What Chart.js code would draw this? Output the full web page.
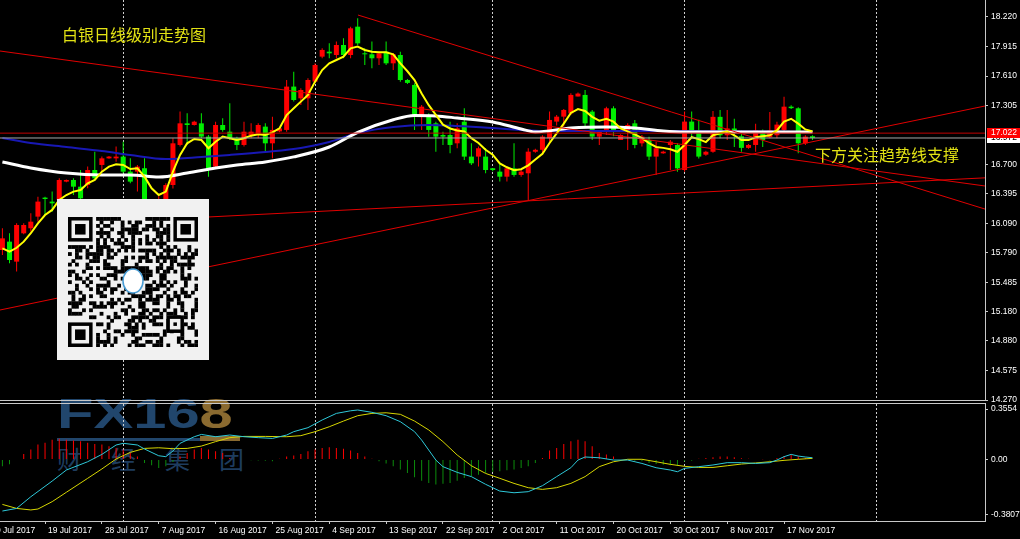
<!DOCTYPE html>
<html>
<head>
<meta charset="utf-8">
<script src="https://cdn.jsdelivr.net/npm/chart.js@4.4.0/dist/chart.umd.min.js"></script>
<style>
html, body { margin: 0; padding: 0; background: #000; overflow: hidden; }
#wrap { position: relative; width: 1020px; height: 539px; background: #000; }
canvas { position: absolute; left: 0; }
#main { top: 0; }
#macd { top: 401px; }
.note { position: absolute; font-family: "Noto Sans CJK SC", sans-serif; font-size: 16px; line-height: 18px; color: #e2e214; white-space: nowrap; }
#wm { position: absolute; left: 57px; top: 393px; width: 190px; height: 85px; }
#wm .fx { position: absolute; left: 0; top: 0; font: bold 42px/42px "Liberation Sans", sans-serif; color: #21466c; transform: scaleX(1.42); transform-origin: 0 0; white-space: nowrap; }
#wm .fx span { color: #8a6a30; }
#wm .bar1 { position: absolute; left: 0; top: 45px; width: 143px; height: 3px; background: #21466c; }
#wm .bar2 { position: absolute; left: 143px; top: 43px; width: 40px; height: 5px; background: #8a6a30; }
#wm .cn { position: absolute; left: 0; top: 50px; font: 25px/30px "Noto Sans CJK SC", sans-serif; letter-spacing: 29px; color: #1e3c5e; white-space: nowrap; }
#qr { position: absolute; left: 57px; top: 199px; width: 152px; height: 161px; background: #f1f1f1; }
#qrc { position: absolute; left: 11px; top: 18px; }
</style>
</head>
<body>
<div id="wrap">
  <div id="wm"><div class="fx">FX16<span>8</span></div><div class="bar1"></div><div class="bar2"></div><div class="cn">财经集团</div></div>
  <canvas id="main" width="1020" height="405"></canvas>
  <canvas id="macd" width="1020" height="138"></canvas>
  <div class="note" style="left:62px;top:25px;">白银日线级别走势图</div>
  <div class="note" style="left:815px;top:145px;">下方关注趋势线支撑</div>
  <div id="qr"><canvas id="qrc" width="130" height="130"></canvas></div>
</div>
<script>
// bottom date labels (bar index where each label sits) and month grid lines
const tickLabels = ['10 Jul 2017', '19 Jul 2017', '28 Jul 2017', '7 Aug 2017', '16 Aug 2017', '25 Aug 2017',
    '4 Sep 2017', '13 Sep 2017', '22 Sep 2017', '2 Oct 2017', '11 Oct 2017', '20 Oct 2017',
    '30 Oct 2017', '8 Nov 2017', '17 Nov 2017'];
const tickIdx = [-2, 6, 14, 22, 30, 38, 46, 54, 62, 70, 78, 86, 94, 102, 110];
const monthIdx = [17, 44, 69, 96, 123];
const priceTicks = [18.220, 17.915, 17.610, 17.305, 16.700, 16.395, 16.090, 15.790, 15.485, 15.180, 14.880, 14.575, 14.270];

// daily silver candles, 12 Jul 2017 .. 22 Nov 2017 (Sunday bars included)
const opens = [15.817,15.903,15.697,15.989,16.041,16.161,16.357,16.316,16.333,16.522,
    16.539,16.470,16.487,16.642,16.694,16.762,16.762,16.780,16.625,16.625,
    16.660,16.240,16.250,16.316,16.487,16.900,17.123,17.106,17.123,16.986,
    16.677,17.106,17.037,16.969,16.900,17.003,17.003,17.089,16.917,17.040,
    17.055,17.502,17.381,17.381,17.553,17.811,17.862,17.828,17.931,17.828,
    18.120,17.845,17.835,17.794,17.862,17.742,17.828,17.570,17.519,17.209,
    17.209,17.123,17.003,17.003,16.917,17.140,16.780,16.780,16.780,16.660,
    16.625,16.573,16.659,16.591,16.608,16.830,16.850,16.969,17.141,17.192,
    17.226,17.400,17.416,17.244,16.986,17.037,17.278,16.951,17.037,17.123,
    16.917,16.951,16.780,16.814,16.900,16.900,16.642,17.141,17.050,16.800,
    16.830,17.190,17.000,17.070,16.990,16.870,16.900,17.020,16.980,17.000,
    17.055,17.295,17.278,16.917,16.990];
const highs = [16.041,15.989,16.092,16.092,16.195,16.367,16.367,16.419,16.556,16.545,
    16.556,16.642,16.677,16.831,16.780,16.785,16.883,16.934,16.762,16.694,
    16.762,16.260,16.370,16.505,16.969,17.244,17.226,17.150,17.226,17.003,
    17.140,17.175,17.330,16.986,17.140,17.123,17.123,17.123,17.192,17.080,
    17.570,17.656,17.484,17.587,17.742,17.897,17.948,17.966,18.000,18.120,
    18.206,17.897,17.966,17.862,17.966,17.845,17.862,17.580,17.536,17.312,
    17.227,17.140,17.037,17.140,17.123,17.278,16.917,16.883,16.866,16.660,
    16.711,16.677,16.917,16.642,16.866,16.860,17.000,17.244,17.210,17.270,
    17.433,17.440,17.467,17.261,17.055,17.295,17.300,17.010,17.123,17.158,
    17.003,16.986,16.934,16.840,16.951,16.917,17.244,17.244,17.160,16.840,
    17.250,17.260,17.260,17.170,17.050,16.910,17.120,17.060,17.240,17.140,
    17.398,17.310,17.290,17.000,17.000];
const lows = [15.765,15.680,15.594,15.980,16.006,16.109,16.178,16.212,16.316,16.515,
    16.384,16.316,16.453,16.539,16.625,16.758,16.728,16.608,16.505,16.419,
    16.180,16.230,16.150,16.280,16.450,16.883,16.900,17.100,16.969,16.573,
    16.659,17.037,16.951,16.848,16.883,16.969,16.969,16.831,16.762,17.030,
    17.037,17.347,17.312,17.261,17.536,17.794,17.794,17.794,17.794,17.794,
    17.931,17.725,17.691,17.725,17.725,17.673,17.553,17.530,17.055,17.055,
    16.986,16.831,16.900,16.814,16.866,16.745,16.694,16.677,16.608,16.630,
    16.522,16.522,16.573,16.573,16.333,16.820,16.800,16.934,17.100,17.089,
    17.209,17.400,17.089,16.951,16.900,17.003,16.990,16.950,16.848,16.866,
    16.883,16.745,16.591,16.810,16.642,16.625,16.625,16.980,16.760,16.790,
    16.820,16.970,16.950,16.880,16.830,16.860,16.830,16.880,16.970,16.970,
    17.040,17.270,16.814,16.900,16.950];
const closes = [15.937,15.714,16.075,16.075,16.109,16.316,16.343,16.298,16.539,16.539,
    16.470,16.350,16.642,16.556,16.762,16.780,16.780,16.625,16.522,16.677,
    16.240,16.250,16.320,16.487,16.917,17.123,17.106,17.140,16.986,16.659,
    17.106,17.055,16.969,16.900,17.037,17.037,17.106,16.917,17.055,17.070,
    17.502,17.364,17.467,17.570,17.725,17.880,17.845,17.931,17.828,18.103,
    17.948,17.835,17.794,17.845,17.742,17.835,17.570,17.540,17.209,17.295,
    17.055,16.986,16.986,16.900,17.072,16.780,16.711,16.866,16.642,16.642,
    16.573,16.659,16.591,16.625,16.831,16.850,16.986,17.158,17.192,17.261,
    17.416,17.430,17.123,16.986,17.037,17.278,17.037,17.003,17.106,16.900,
    16.986,16.780,16.866,16.831,16.934,16.659,17.141,17.050,16.780,16.830,
    17.190,17.000,17.070,17.030,16.870,16.900,17.050,16.950,17.050,17.110,
    17.295,17.280,16.917,16.986,16.972];

// moving averages
const maFast = [15.834,15.800,15.840,15.903,15.990,16.092,16.178,16.230,16.333,16.384,
    16.419,16.436,16.505,16.540,16.625,16.677,16.700,16.694,16.652,16.660,
    16.573,16.453,16.384,16.419,16.625,16.797,16.917,16.962,16.951,16.866,
    16.934,16.986,16.969,16.951,16.969,16.996,17.010,17.003,17.030,17.072,
    17.209,17.278,17.347,17.416,17.553,17.673,17.742,17.776,17.811,17.897,
    17.914,17.880,17.862,17.855,17.855,17.835,17.742,17.660,17.570,17.430,
    17.310,17.210,17.110,17.070,17.050,17.040,16.970,16.920,16.850,16.800,
    16.710,16.670,16.640,16.650,16.690,16.750,16.810,16.920,17.020,17.120,
    17.230,17.270,17.250,17.190,17.150,17.170,17.140,17.070,17.040,17.010,
    16.970,16.920,16.880,16.870,16.855,16.830,16.900,16.980,16.960,16.930,
    17.000,17.020,17.040,17.000,16.950,16.950,16.980,16.990,17.000,17.050,
    17.140,17.170,17.120,17.060,17.040];
const maWhite = [[0,16.725],[4,16.663],[9,16.611],[14,16.591],[18,16.591],[22,16.570],[26,16.611],
    [30,16.663],[33,16.694],[37,16.725],[41,16.777],[46,16.879],[50,17.030],[55,17.160],[58,17.205],
    [61,17.200],[64,17.178],[69,17.137],[73,17.065],[75,17.034],[80,17.075],[85,17.086],[89,17.075],
    [93,17.044],[96,17.034],[104,17.034],[114,17.034]];
const maBlue = [[0,16.972],[4,16.921],[9,16.879],[14,16.838],[18,16.797],[23,16.756],[28,16.776],
    [32,16.797],[37,16.828],[42,16.869],[46,16.931],[50,17.024],[55,17.086],[60,17.106],[64,17.096],
    [69,17.075],[73,17.055],[76,17.044],[94,17.044],[114,17.034]];

// hand-drawn trend lines [x1, price1, x2, price2] and horizontal levels
const trendLines = [[-0.34, 17.869, 138.28, 16.477], [50.04, 18.240, 138.28, 16.239],
    [-0.34, 15.198, 138.28, 17.302], [20.77, 16.127, 138.28, 16.561]];
const levelLine = 17.022;
const bidLine = 16.972;

// MACD panel
const macdMain = [[0,-0.335],[2,-0.318],[4,-0.242],[7,-0.140],[9,-0.068],[12,-0.014],[14,0.034],
    [16,0.095],[17,0.106],[19,0.095],[20,0.069],[22,0.025],[23,0.019],[24,0.056],[25,0.106],[27,0.149],
    [28,0.164],[30,0.149],[32,0.160],[34,0.149],[36,0.143],[38,0.138],[40,0.160],[41,0.182],[43,0.208],
    [45,0.258],[47,0.301],[49,0.318],[50,0.323],[52,0.308],[54,0.286],[56,0.247],[58,0.182],[59,0.127],
    [61,-0.003],[62,-0.046],[64,-0.083],[66,-0.111],[68,-0.161],[70,-0.205],[72,-0.216],[74,-0.209],
    [76,-0.170],[78,-0.111],[80,-0.053],[81,-0.003],[82,0.017],[84,0.012],[86,-0.003],[88,-0.003],
    [90,-0.025],[92,-0.053],[94,-0.068],[95,-0.079],[96,-0.057],[98,-0.046],[100,-0.035],[102,-0.020],
    [104,-0.020],[106,-0.025],[108,-0.020],[109,-0.003],[110,0.019],[111,0.034],[112,0.023],[113,0.017],
    [114,0.012]];
const macdSignal = [[0,-0.292],[2,-0.318],[4,-0.328],[5,-0.322],[7,-0.274],[9,-0.213],[12,-0.122],
    [14,-0.061],[16,0.004],[18,0.047],[20,0.073],[22,0.077],[24,0.071],[26,0.073],[28,0.088],[30,0.117],
    [32,0.143],[34,0.151],[37,0.151],[40,0.149],[42,0.156],[44,0.182],[46,0.214],[48,0.251],[50,0.286],
    [52,0.301],[54,0.305],[56,0.295],[58,0.251],[60,0.193],[62,0.117],[64,0.030],[66,-0.040],[68,-0.090],
    [70,-0.122],[72,-0.155],[74,-0.183],[76,-0.194],[78,-0.183],[80,-0.155],[82,-0.111],[84,-0.046],
    [86,-0.014],[88,0.002],[90,0.002],[92,-0.014],[94,-0.031],[96,-0.044],[98,-0.051],[100,-0.051],
    [102,-0.040],[104,-0.029],[106,-0.022],[108,-0.014],[110,-0.005],[112,0.002],[114,0.008]];
const macdHist = [-0.043,-0.030,0.000,0.037,0.065,0.098,0.109,0.130,0.135,0.130,
    0.124,0.120,0.109,0.102,0.098,0.087,0.076,0.065,0.043,0.020,
    -0.022,-0.037,-0.054,-0.043,-0.015,0.020,0.043,0.065,0.076,0.065,
    0.054,0.043,0.010,0.004,-0.002,-0.004,-0.006,-0.008,-0.010,0.005,
    0.020,0.026,0.037,0.054,0.065,0.076,0.080,0.076,0.070,0.059,
    0.043,0.020,0.005,-0.010,-0.026,-0.043,-0.065,-0.087,-0.115,-0.137,
    -0.152,-0.163,-0.158,-0.152,-0.137,-0.120,-0.109,-0.098,-0.087,-0.080,
    -0.076,-0.070,-0.065,-0.054,-0.043,-0.022,0.010,0.059,0.076,0.102,
    0.120,0.130,0.120,0.087,0.043,0.033,0.020,0.004,0.002,-0.007,
    -0.011,-0.022,-0.028,-0.033,-0.037,-0.037,-0.013,-0.008,0.005,0.010,
    0.016,0.020,0.020,0.015,0.009,0.005,-0.003,0.002,-0.006,0.010,
    0.024,0.030,0.021,0.012,0.004];
// MT4 prints the panel's max/min at its edges; tick positions sit where those labels are drawn
const macdTickPos = [0.3296, 0, -0.3609];
const macdTickLabels = ['0.3554', '0.00', '-0.3807'];

const X_MIN = -0.338, X_MAX = 138.28;

Chart.defaults.font.family = '"Liberation Sans", Arial, sans-serif';
Chart.defaults.font.size = 8.5;
Chart.defaults.color = '#ffffff';

var upColor = '#ff0000';
var downColor = '#00ee00';
var candleColors = opens.map(function (o, i) { return closes[i] >= o ? upColor : downColor; });
var xy = function (arr) { return arr.map(function (v, i) { return { x: i, y: v }; }); };
var pairs = function (arr) { return arr.map(function (p) { return { x: p[0], y: p[1] }; }); };
var flat = function (v) { return [{ x: X_MIN, y: v }, { x: X_MAX, y: v }]; };

function fixRightAxis(s) { s.width = 35; s.paddingTop = 0; s.paddingBottom = 0; }

var priceTags = {
    id: 'priceTags',
    afterDraw: function (chart) {
        var ctx = chart.ctx, y = chart.scales.y;
        var tags = [[bidLine, '#ffffff', '#000000'], [levelLine, '#ff0000', '#ffffff']];
        ctx.save();
        ctx.font = '8.5px "Liberation Sans"';
        ctx.textBaseline = 'middle';
        tags.forEach(function (t) {
            var py = Math.round(y.getPixelForValue(t[0]));
            ctx.fillStyle = t[1];
            ctx.fillRect(y.left + 2, py - 5, 33, 10);
            ctx.fillStyle = t[2];
            ctx.fillText(t[0].toFixed(3), y.left + 6, py);
        });
        ctx.restore();
    }
};

var mainSets = [
    { type: 'line', data: flat(levelLine), borderColor: '#c00000', borderWidth: 1, pointRadius: 0, order: 1 },
    { type: 'line', data: flat(bidLine), borderColor: '#a8a8a8', borderWidth: 1, pointRadius: 0, order: 1 }
];
trendLines.forEach(function (t) {
    mainSets.push({ type: 'line', data: [{ x: t[0], y: t[1] }, { x: t[2], y: t[3] }],
        borderColor: '#e00000', borderWidth: 1, pointRadius: 0, order: 2 });
});
mainSets.push(
    { type: 'line', data: xy(maFast), borderColor: '#ffff00', borderWidth: 2, pointRadius: 0, order: 3 },
    { type: 'line', data: pairs(maWhite), borderColor: '#ffffff', borderWidth: 3, pointRadius: 0, cubicInterpolationMode: 'monotone', order: 4 },
    { type: 'line', data: pairs(maBlue), borderColor: '#1818b4', borderWidth: 2, pointRadius: 0, cubicInterpolationMode: 'monotone', order: 5 },
    { data: opens.map(function (o, i) { return { x: i, y: [o, closes[i]] }; }), backgroundColor: candleColors,
        maxBarThickness: 5, minBarLength: 1, grouped: false, order: 6 },
    { data: opens.map(function (o, i) { return { x: i, y: [lows[i], highs[i]] }; }), backgroundColor: candleColors,
        maxBarThickness: 1, grouped: false, order: 7 }
);

new Chart(document.getElementById('main'), {
    type: 'bar',
    data: { datasets: mainSets },
    options: {
        responsive: false, animation: false, devicePixelRatio: 1,
        layout: { padding: 0 },
        plugins: { legend: { display: false }, tooltip: { enabled: false } },
        scales: {
            x: {
                type: 'linear', min: X_MIN, max: X_MAX, offset: false,
                grid: { color: '#d0d0d0', drawTicks: false, offset: false },
                border: { display: true, color: '#c8c8c8', dash: [2, 2] },
                ticks: { display: false },
                afterBuildTicks: function (s) { s.ticks = monthIdx.map(function (v) { return { value: v }; }); },
                afterFit: function (s) { s.height = 5; s.paddingLeft = 0; s.paddingRight = 0; }
            },
            y: {
                type: 'linear', position: 'right', min: 14.270, max: 18.395,
                grid: { drawOnChartArea: false, drawTicks: true, tickLength: 3, color: '#c8c8c8' },
                border: { display: true, color: '#c8c8c8' },
                ticks: { padding: 3, autoSkip: false, color: '#ffffff', callback: function (v) { return v.toFixed(3); } },
                afterBuildTicks: function (s) { s.ticks = priceTicks.map(function (v) { return { value: v }; }); },
                afterFit: fixRightAxis
            }
        }
    },
    plugins: [priceTags]
});

new Chart(document.getElementById('macd'), {
    type: 'bar',
    data: {
        datasets: [
            { type: 'line', data: pairs(macdMain), borderColor: '#2ec8d8', borderWidth: 1, pointRadius: 0, order: 1 },
            { type: 'line', data: pairs(macdSignal), borderColor: '#d6d600', borderWidth: 1, pointRadius: 0, order: 2 },
            { data: xy(macdHist), backgroundColor: macdHist.map(function (v) { return v >= 0 ? '#ff0000' : '#0c8c0c'; }),
                maxBarThickness: 1, grouped: false, order: 3 }
        ]
    },
    options: {
        responsive: false, animation: false, devicePixelRatio: 1,
        layout: { padding: { top: 2, left: 0, right: 0, bottom: 0 } },
        plugins: { legend: { display: false }, tooltip: { enabled: false } },
        scales: {
            x: {
                type: 'linear', position: 'bottom', min: X_MIN, max: X_MAX, offset: false,
                grid: { drawOnChartArea: false, drawTicks: true, tickLength: 3, color: '#c8c8c8', offset: false },
                border: { display: true, color: '#c8c8c8' },
                ticks: { autoSkip: false, maxRotation: 0, align: 'start', labelOffset: 3, padding: 2, color: '#ffffff',
                    callback: function (v, i) { return tickLabels[i]; } },
                afterBuildTicks: function (s) { s.ticks = tickIdx.map(function (v) { return { value: v }; }); },
                afterFit: function (s) { s.height = 18; s.paddingLeft = 0; s.paddingRight = 0; }
            },
            xg: {
                type: 'linear', position: 'top', min: X_MIN, max: X_MAX, offset: false,
                grid: { color: '#d0d0d0', drawTicks: false, offset: false },
                border: { display: true, color: '#c8c8c8', dash: [2, 2] },
                ticks: { display: false },
                afterBuildTicks: function (s) { s.ticks = monthIdx.map(function (v) { return { value: v }; }); },
                afterFit: function (s) { s.height = 0; s.paddingLeft = 0; s.paddingRight = 0; }
            },
            y: {
                type: 'linear', position: 'right', min: -0.400, max: 0.3687,
                grid: { drawOnChartArea: false, drawTicks: true, tickLength: 3, color: '#c8c8c8' },
                border: { display: true, color: '#c8c8c8' },
                ticks: { padding: 3, autoSkip: false, color: '#ffffff',
                    callback: function (v, i) { return macdTickLabels[i]; } },
                afterBuildTicks: function (s) { s.ticks = macdTickPos.map(function (v) { return { value: v }; }); },
                afterFit: fixRightAxis
            }
        }
    }
});

// QR code picture on the left (decoration only)
var qc = document.getElementById('qrc').getContext('2d');
var N = 37, m = 130 / N;
function finder(cx, cy) {
    qc.fillStyle = '#000'; qc.fillRect(cx * m, cy * m, 7 * m, 7 * m);
    qc.fillStyle = '#f1f1f1'; qc.fillRect((cx + 1) * m, (cy + 1) * m, 5 * m, 5 * m);
    qc.fillStyle = '#000'; qc.fillRect((cx + 2) * m, (cy + 2) * m, 3 * m, 3 * m);
}
qc.fillStyle = '#000';
for (var r = 0; r < N; r++) {
    for (var c = 0; c < N; c++) {
        var inFinder = (r < 8 && c < 8) || (r < 8 && c > N - 9) || (r > N - 9 && c < 8);
        if (inFinder) continue;
        var h = ((c * 73856093) ^ (r * 19349663) ^ (c * r * 83492791)) >>> 0;
        var on = (r === 6 || c === 6) ? ((r + c) % 2 === 0) : (h % 100 < 47);
        if (on) qc.fillRect(c * m, r * m, m + 0.3, m + 0.3);
    }
}
finder(0, 0); finder(N - 7, 0); finder(0, N - 7);
qc.fillStyle = '#000'; qc.fillRect(28 * m, 28 * m, 5 * m, 5 * m);
qc.fillStyle = '#f1f1f1'; qc.fillRect(29 * m, 29 * m, 3 * m, 3 * m);
qc.fillStyle = '#000'; qc.fillRect(30 * m, 30 * m, m, m);
qc.beginPath(); qc.ellipse(65, 64, 10, 12, 0, 0, Math.PI * 2);
qc.fillStyle = '#ffffff'; qc.fill();
qc.lineWidth = 1.5; qc.strokeStyle = '#4a9ed6'; qc.stroke();
</script>
</body>
</html>
